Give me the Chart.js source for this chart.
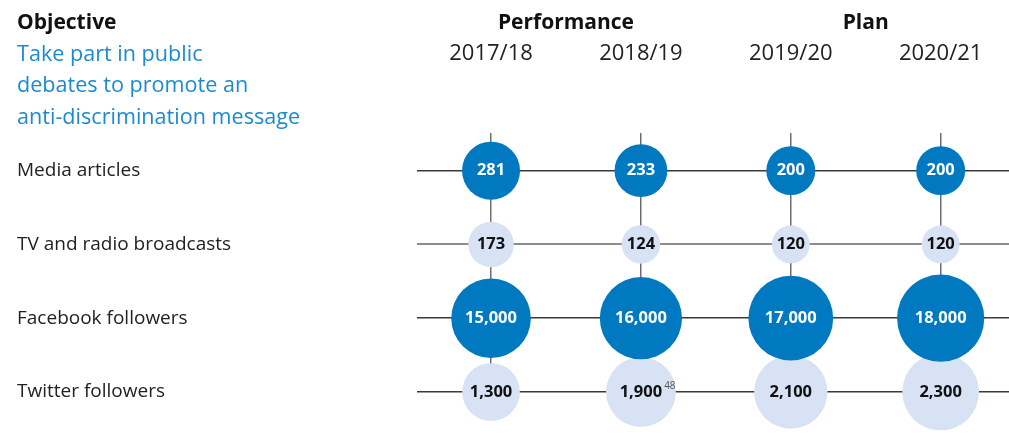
<!DOCTYPE html>
<html>
<head>
<meta charset="utf-8">
<script src="https://cdn.jsdelivr.net/npm/chart.js@4/dist/chart.umd.min.js"></script>
<style>
  html, body { margin: 0; padding: 0; background: #fff; }
  #wrap { width: 1009px; height: 437px; position: relative; }
</style>
</head>
<body>
<div id="wrap"><canvas id="objective-chart"></canvas></div>
<script>
// Values
const YEARS = ['2017/18', '2018/19', '2019/20', '2020/21']
const ROWS = ['Media articles', 'TV and radio broadcasts', 'Facebook followers', 'Twitter followers']
const MEDIA = [281, 233, 200, 200]
const TV_RADIO = [173, 124, 120, 120]
const FACEBOOK = [15000, 16000, 17000, 18000]
const TWITTER = [1300, 1900, 2100, 2300]
const TWITTER_NOTES = ['', '48', '', '']

const DARK = '#0079c1'
const LIGHT = '#d7e2f4'
const FONT = '"Open Sans", "Noto Sans", sans-serif'

// each row is scaled on its own, bubble area ~ value
const rows = [
  { values: MEDIA, k: 1.73, color: DARK, text: '#fff' },
  { values: TV_RADIO, k: 1.73, color: LIGHT, text: '#111' },
  { values: FACEBOOK, k: 0.325, color: DARK, text: '#fff' },
  { values: TWITTER, k: 0.8, color: LIGHT, text: '#111', notes: TWITTER_NOTES },
]

const datasets = rows.map((row, i) => ({
  label: ROWS[i],
  data: row.values.map((v, j) => ({ x: j, y: i, r: row.k * Math.sqrt(v) })),
  backgroundColor: row.color,
  borderWidth: 0,
  hoverBorderWidth: 0,
  clip: false,
}))

// numbers inside the bubbles
const bubbleLabels = {
  id: 'bubbleLabels',
  afterDatasetsDraw(chart) {
    const { ctx } = chart
    ctx.save()
    ctx.textAlign = 'center'
    ctx.textBaseline = 'middle'
    chart.data.datasets.forEach((ds, i) => {
      const row = rows[i]
      chart.getDatasetMeta(i).data.forEach((el, j) => {
        const txt = row.values[j].toLocaleString('en-US')
        ctx.font = `bold 16.5px ${FONT}`
        ctx.fillStyle = row.text
        ctx.fillText(txt, el.x, el.y)
        const note = row.notes && row.notes[j]
        if (note) {
          const w = ctx.measureText(txt).width
          ctx.font = `10px ${FONT}`
          ctx.fillStyle = '#555'
          ctx.textAlign = 'left'
          ctx.fillText(note, el.x + w / 2 + 2, el.y - 6)
          ctx.textAlign = 'center'
        }
      })
    })
    ctx.restore()
  },
}

// headings above the grid
const headings = {
  id: 'headings',
  afterDraw(chart) {
    const { ctx } = chart
    const x = chart.scales.x
    ctx.save()
    ctx.textBaseline = 'alphabetic'
    ctx.textAlign = 'left'
    ctx.fillStyle = '#111'
    ctx.font = `bold 21px ${FONT}`
    ctx.fillText('Objective', 17, 29)
    ctx.fillStyle = '#1d8ad0'
    ctx.font = `21.6px ${FONT}`
    ;['Take part in public', 'debates to promote an', 'anti-discrimination message']
      .forEach((line, i) => ctx.fillText(line, 17, 61 + i * 31.3))
    ctx.textAlign = 'center'
    ctx.fillStyle = '#111'
    ctx.font = `bold 21px ${FONT}`
    ctx.fillText('Performance', (x.getPixelForValue(0) + x.getPixelForValue(1)) / 2, 29)
    ctx.fillText('Plan', (x.getPixelForValue(2) + x.getPixelForValue(3)) / 2, 29)
    ctx.restore()
  },
}

new Chart(document.getElementById('objective-chart'), {
  type: 'bubble',
  data: { datasets },
  plugins: [bubbleLabels, headings],
  options: {
    responsive: true,
    maintainAspectRatio: false,
    animation: false,
    events: [],
    layout: { autoPadding: false, padding: { left: 17, right: 0, top: 0, bottom: 45 } },
    plugins: {
      legend: { display: false },
      tooltip: { enabled: false },
    },
    scales: {
      x: {
        type: 'linear',
        position: 'top',
        min: -0.494,
        max: 3.456,
        afterFit: s => {
          s.height = 133
          s.paddingLeft = 0
          s.paddingRight = 0
        },
        afterBuildTicks: s => { s.ticks = YEARS.map((_, i) => ({ value: i })) },
        border: { display: false },
        grid: { color: '#6e6e6e', lineWidth: 1.5, drawTicks: false },
        ticks: {
          padding: 66,
          color: '#222',
          font: { family: FONT, size: 22 },
          callback: v => YEARS[v],
          maxRotation: 0,
          autoSkip: false,
        },
      },
      y: {
        type: 'linear',
        reverse: true,
        min: -0.51,
        max: 3,
        afterFit: s => {
          s.width = 400
          s.paddingTop = 0
          s.paddingBottom = 0
        },
        afterBuildTicks: s => { s.ticks = ROWS.map((_, i) => ({ value: i })) },
        border: { display: false },
        grid: {
          drawTicks: false,
          color: c => (c.index === 1 ? '#8c8c8c' : '#3a3a3a'),
          lineWidth: c => (c.index === 1 ? 2 : 1.5),
        },
        ticks: {
          crossAlign: 'far',
          color: '#222',
          font: { family: FONT, size: 19 },
          callback: v => ROWS[v],
          autoSkip: false,
        },
      },
    },
  },
})
</script>
</body>
</html>
